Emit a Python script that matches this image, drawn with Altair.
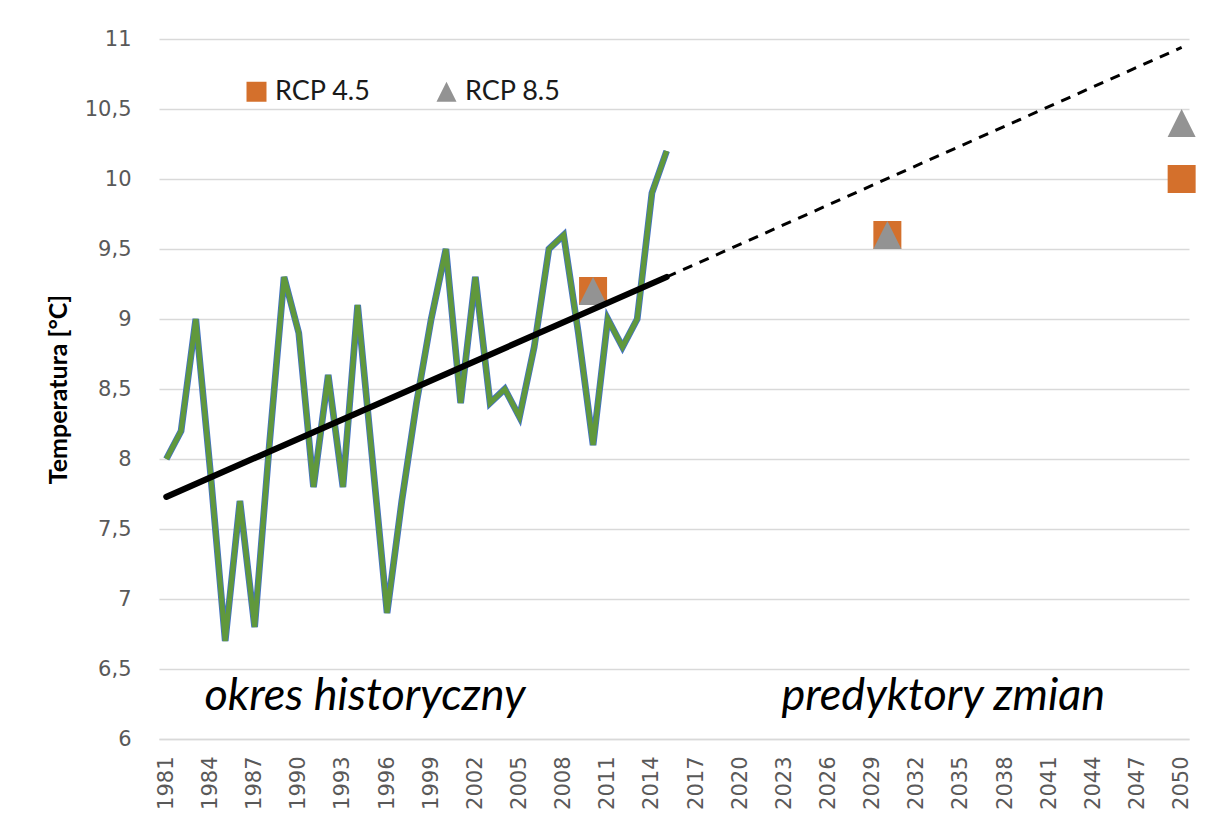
import altair as alt
import pandas as pd

# ---- data ----
years = list(range(1981, 2016))
temps = [8.0, 8.2, 9.0, 7.9, 6.7, 7.7, 6.8, 8.1, 9.3, 8.9,
         7.8, 8.6, 7.8, 9.1, 8.0, 6.9, 7.7, 8.4, 9.0, 9.5,
         8.4, 9.3, 8.4, 8.5, 8.3, 8.8, 9.5, 9.6, 8.9, 8.1,
         9.0, 8.8, 9.0, 9.9, 10.2]

trend_solid_years = [1981, 2015]
trend_solid_values = [7.73, 9.30]
trend_dash_years = [2015, 2050]
trend_dash_values = [9.30, 10.94]

rcp_years = [2010, 2030, 2050]
rcp45_values = [9.2, 9.6, 10.0]
rcp85_values = [9.2, 9.6, 10.4]
series_names = ["RCP 4.5", "RCP 8.5"]

x_ticks = list(range(1981, 2051, 3))
y_ticks = [6, 6.5, 7, 7.5, 8, 8.5, 9, 9.5, 10, 10.5, 11]

ann_text = ["okres historyczny", "predyktory zmian"]
ann_year = [1994.5, 2033.8]
ann_value = [6.207, 6.207]

# ---- tables ----
hist_df = pd.DataFrame({"year": years, "value": temps})
solid_df = pd.DataFrame({"year": trend_solid_years, "value": trend_solid_values})
dash_df = pd.DataFrame({"year": trend_dash_years, "value": trend_dash_values})
rcp_df = pd.DataFrame({
    "year": rcp_years + rcp_years,
    "value": rcp45_values + rcp85_values,
    "series": [series_names[0]] * len(rcp_years) + [series_names[1]] * len(rcp_years),
})
ann_df = pd.DataFrame({"year": ann_year, "value": ann_value, "text": ann_text})

LABEL_FONT = "DejaVu Sans"
GRID = "#d9d9d9"

x_enc = alt.X(
    "year:Q",
    scale=alt.Scale(domain=[1980.5, 2050.5], nice=False, zero=False),
    axis=alt.Axis(
        values=x_ticks, format="d", title=None, grid=False,
        ticks=False, tickSize=0, domain=True, domainColor=GRID, domainWidth=1.3,
        labelAngle=270, labelAlign="right", labelBaseline="middle",
        labelFont=LABEL_FONT, labelFontSize=21, labelColor="#595959",
        labelPadding=17, labelOverlap=False, labelFlush=False,
    ),
)
y_enc = alt.Y(
    "value:Q",
    scale=alt.Scale(domain=[6, 11], nice=False, zero=False),
    axis=alt.Axis(
        values=y_ticks,
        labelExpr="replace(toString(datum.value), '.', ',')",
        title="Temperatura [°C]", titleFont="Lato", titleFontWeight="bold",
        titleFontSize=25, titleColor="#000000", titlePadding=13,
        grid=True, gridColor=GRID, gridWidth=1.3,
        domain=False, ticks=False, tickSize=0,
        labelFont=LABEL_FONT, labelFontSize=21, labelColor="#595959",
        labelPadding=28, labelFlush=False, labelOverlap=False,
    ),
)

legend = alt.Legend(
    orient="none", legendX=84, legendY=39, direction="horizontal", title=None,
    symbolSize=400, labelFont="Lato", labelFontSize=27, labelColor="#1a1a1a",
    columnPadding=62, labelOffset=5, padding=0, symbolStrokeWidth=0,
    symbolOpacity=1,
)

points = alt.Chart(rcp_df).mark_point(filled=True, opacity=1, size=784).encode(
    x=x_enc, y=y_enc,
    color=alt.Color("series:N", scale=alt.Scale(domain=series_names,
                    range=["#D4702C", "#939393"]), legend=legend),
    shape=alt.Shape("series:N", scale=alt.Scale(domain=series_names,
                    range=["square", "M0,-1L1,1L-1,1Z"]), legend=legend),
)

hist_outline = alt.Chart(hist_df).mark_line(color="#4472C4", strokeWidth=6.7,
                                            strokeJoin="miter").encode(x=x_enc, y=y_enc)
hist_line = alt.Chart(hist_df).mark_line(color="#60983C", strokeWidth=5,
                                         strokeJoin="miter").encode(x=x_enc, y=y_enc)

trend_solid = alt.Chart(solid_df).mark_line(color="black", strokeWidth=6.2,
                                            strokeCap="round").encode(x=x_enc, y=y_enc)
trend_dash = alt.Chart(dash_df).mark_line(color="black", strokeWidth=3,
                                          strokeDash=[10, 8]).encode(x=x_enc, y=y_enc)

ann = alt.Chart(ann_df).mark_text(font="Lato", fontStyle="italic", fontSize=45,
                                  align="center", baseline="alphabetic",
                                  color="black").encode(x=x_enc, y=y_enc, text="text:N")

chart = alt.layer(points, hist_outline, hist_line, trend_solid, trend_dash, ann).properties(
    width=1030, height=700,
    autosize=alt.AutoSizeParams(type="none"),
    padding={"left": 151, "top": 31, "right": 16, "bottom": 77},
    background="white",
).configure_view(stroke=None)

chart.save("out.html", embed_options={"renderer": "svg", "actions": False})
